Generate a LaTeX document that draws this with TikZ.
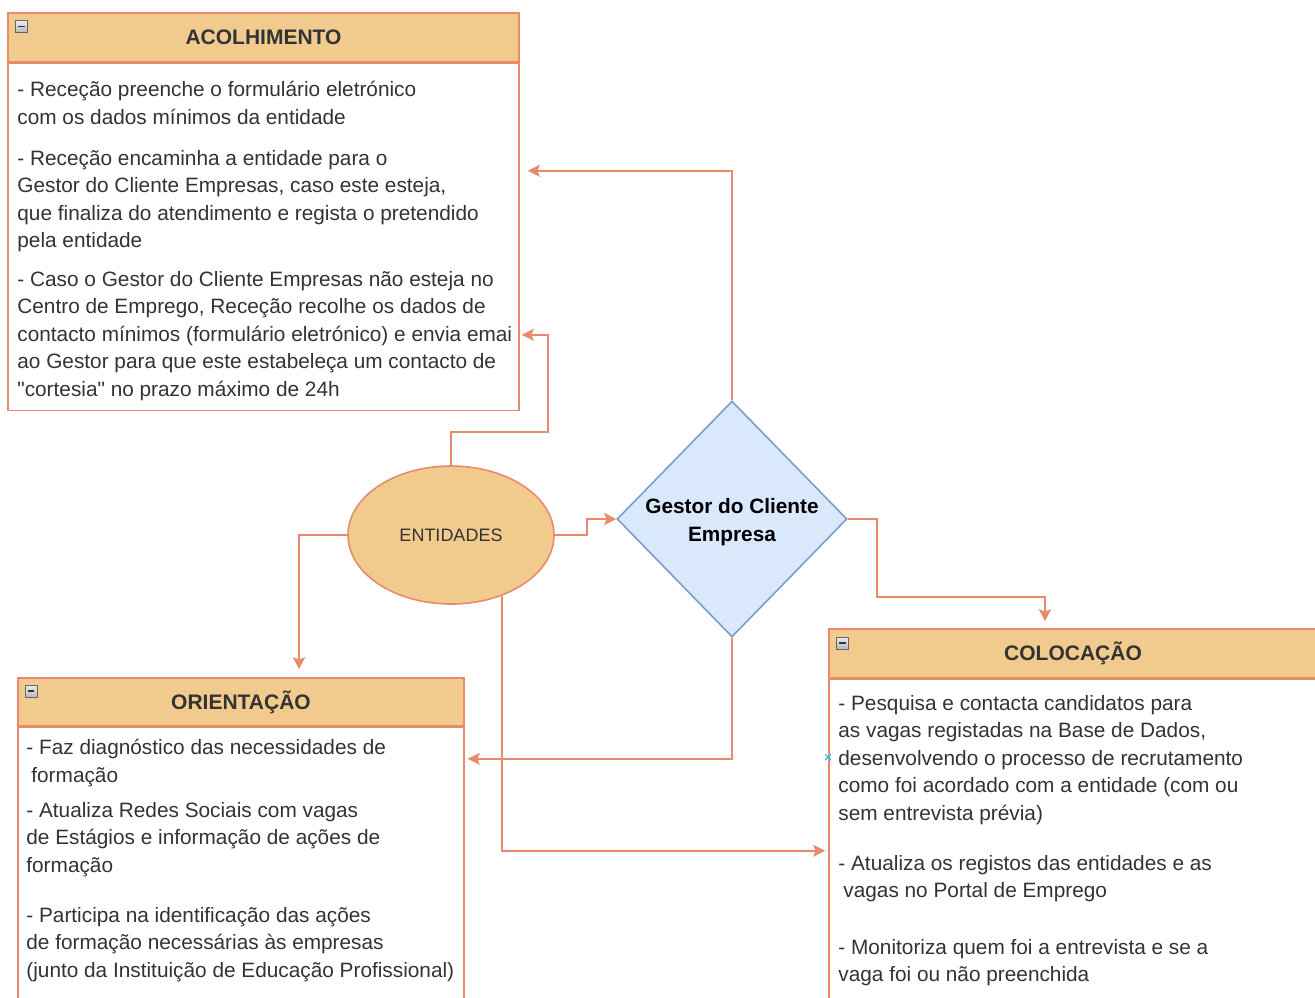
\documentclass[tikz,border=0pt]{standalone}
\usepackage{fontspec}
\setmainfont{Liberation Sans}
\usetikzlibrary{arrows.meta,shapes.geometric}
\definecolor{boxline}{HTML}{E98A6D}
\definecolor{headfill}{HTML}{F1CB8D}
\definecolor{diafill}{HTML}{DAE8FC}
\definecolor{dialine}{HTML}{7C9CCB}
\definecolor{txt}{HTML}{333333}
\definecolor{marker}{HTML}{3DB8EA}
\tikzset{
  headbox/.style={draw=boxline, fill=headfill, line width=0.8pt, inner sep=0,
    minimum height=24.5pt, text=txt, font=\fontsize{10.5}{12}\selectfont\bfseries},
  bodybox/.style={draw=boxline, fill=white, line width=0.8pt, inner sep=0, anchor=north},
  para/.style={anchor=north west, inner sep=0, align=left, text=txt,
    font=\fontsize{10.4}{13.75}\selectfont},
  link/.style={draw=boxline, line width=0.8pt, -{Stealth[length=6pt,width=6pt,inset=1.2pt]}},
}
\tikzset{
  minusicon/.style={draw=gray!80!black, top color=gray!15, bottom color=gray!55,
    line width=0.4pt, minimum size=6pt, inner sep=0,
    path picture={
      \draw[line width=0.9pt, black!80]
        ([xshift=1.4pt]path picture bounding box.west) -- ([xshift=-1.4pt]path picture bounding box.east);
    }
  },
  xmark/.style={minimum size=3pt, inner sep=0,
    path picture={
      \draw[marker, line width=0.7pt]
        (path picture bounding box.south east) -- (path picture bounding box.north west)
        (path picture bounding box.south west) -- (path picture bounding box.north east);
    }
  }
}

\begin{document}
\begin{tikzpicture}[x=0.5pt, y=-0.5pt]
\useasboundingbox (0,0) rectangle (1315,997);
\clip (0,0) rectangle (1315,997);

% acolhimento
\node[headbox, minimum width=255.5pt] (acolhead) at (263.5,37.5) {ACOLHIMENTO};
\node[bodybox, minimum width=255.5pt, minimum height=173.5pt] (acolbody) at (acolhead.south) {};
\node[minusicon] (acolicon) at (21.5,26.5) {};
\node[para] (acol1) at (17,81) {- Receção preenche o formulário eletrónico\\com os dados mínimos da entidade};
\node[para] (acol2) at (17,150) {- Receção encaminha a entidade para o\\Gestor do Cliente Empresas, caso este esteja,\\que finaliza do atendimento e regista o pretendido\\pela entidade};
\node[para] (acol3) at (17,271) {- Caso o Gestor do Cliente Empresas não esteja no\\Centro de Emprego, Receção recolhe os dados de\\contacto mínimos (formulário eletrónico) e envia emai\\ao Gestor para que este estabeleça um contacto de\\\textquotedbl cortesia\textquotedbl{} no prazo máximo de 24h};

% orientacao
\node[headbox, minimum width=223pt, minimum height=24pt] (orienthead) at (241,702) {ORIENTAÇÃO};
\node[bodybox, minimum width=223pt, minimum height=145pt] (orientbody) at (orienthead.south) {};
\node[minusicon] (orienticon) at (31,691) {};
\node[para] (orient1) at (26,739) {- Faz diagnóstico das necessidades de\\\hspace{2.5pt}formação};
\node[para] (orient2) at (26,802) {- Atualiza Redes Sociais com vagas\\de Estágios e informação de ações de\\formação};
\node[para] (orient3) at (26,907) {- Participa na identificação das ações\\de formação necessárias às empresas\\(junto da Instituição de Educação Profissional)};

% colocacao
\node[headbox, minimum width=244pt] (colochead) at (1073,653.5) {COLOCAÇÃO};
\node[bodybox, minimum width=244pt, minimum height=170pt] (colocbody) at (colochead.south) {};
\node[minusicon] (colocicon) at (842.5,643) {};
\node[para] (coloc1) at (838,695) {- Pesquisa e contacta candidatos para\\as vagas registadas na Base de Dados,\\desenvolvendo o processo de recrutamento\\como foi acordado com a entidade (com ou\\sem entrevista prévia)};
\node[para] (coloc2) at (838,855) {- Atualiza os registos das entidades e as\\\hspace{2.5pt}vagas no Portal de Emprego};
\node[para] (coloc3) at (838,939) {- Monitoriza quem foi a entrevista e se a\\vaga foi ou não preenchida};

% entidades and gestor
\node[ellipse, draw=boxline, fill=headfill, line width=0.8pt, inner sep=0,
  minimum width=103pt, minimum height=69pt, text=txt,
  font=\fontsize{9}{11}\selectfont] (ent) at (451,535) {ENTIDADES};
\node[diamond, draw=dialine, fill=diafill, line width=0.8pt, inner sep=0,
  minimum width=115pt, minimum height=118pt, align=center,
  font=\fontsize{10.4}{14}\selectfont\bfseries] (gestor) at (732,519) {\rule{0pt}{11pt}Gestor do Cliente\\Empresa};

% connectors
\draw[link, shorten >=4pt] (gestor.north) |- ([yshift=-54pt]acolbody.north east);
\draw[link, shorten >=1pt] (ent.north) -- ++(0,-33) -- ++(97,0) |- ([yshift=-136pt]acolbody.north east);
\draw[link] (ent.east) -- ++(32,0) |- (gestor.west);
\draw[link, shorten >=4pt] (ent.west) -| ([xshift=29pt]orienthead.north);
\draw[link, shorten >=1.5pt] (ent.-50) |- ([yshift=-86pt]colocbody.north west);
\draw[link, shorten >=1.5pt] (gestor.south) |- ([yshift=-16pt]orientbody.north east);
\draw[link, shorten >=3.5pt] (gestor.east) -- ++(29,0) -- ++(0,78) -| ([xshift=-14pt]colochead.north);

\node[xmark] (mark) at (828,757) {};
\end{tikzpicture}
\end{document}
